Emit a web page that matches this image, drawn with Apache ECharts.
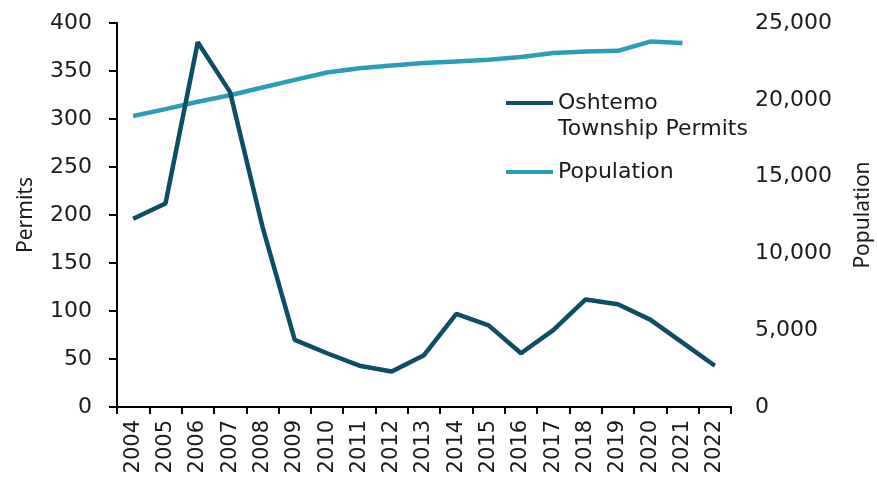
<!DOCTYPE html>
<html>
<head>
<meta charset="utf-8">
<script src="https://cdn.jsdelivr.net/npm/echarts@6/dist/echarts.min.js"></script>
<style>
  html, body { margin: 0; padding: 0; background: #ffffff; }
  #chart { width: 877px; height: 479px; }
</style>
</head>
<body>
<div id="chart"></div>
<script>
// Oshtemo Township residential permits and population, 2004–2022
const years = ['2004','2005','2006','2007','2008','2009','2010','2011','2012','2013',
               '2014','2015','2016','2017','2018','2019','2020','2021','2022'];
const permits = [196, 212, 380, 328, 188, 70, 56, 43, 37, 54,
                 97, 85, 56, 80, 112, 107, 91, 67, 43];
const population = [18950, 19390, 19870, 20300, 20800, 21300, 21780, 22060, 22230, 22390,
                    22500, 22600, 22780, 23040, 23150, 23190, 23790, 23700, null];
const permitTicks = { min: 0, max: 400, interval: 50 };
const populationTicks = { min: 0, max: 25000, interval: 5000 };

const DARK = '#0e4d63';
const LIGHT = '#2d9db5';
const TEXT = '#1a1a1a';
const FONT = 'DejaVu Sans';

const chart = echarts.init(document.getElementById('chart'), null, { renderer: 'canvas' });

chart.setOption({
  animation: false,
  backgroundColor: '#ffffff',
  grid: { left: 117, right: 146, top: 23, bottom: 72, containLabel: false, outerBoundsMode: 'none' },
  legend: {
    orient: 'vertical',
    left: 501,
    top: 59,
    itemWidth: 47,
    itemHeight: 4,
    itemGap: 17,
    icon: 'rect',
    textStyle: { fontFamily: FONT, fontSize: 22, color: TEXT, lineHeight: 26 },
    formatter: function (name) {
      return name === 'Oshtemo Township Permits' ? '\nOshtemo\nTownship Permits' : name;
    },
    data: ['Oshtemo Township Permits', 'Population']
  },
  xAxis: {
    type: 'category',
    data: years,
    boundaryGap: true,
    axisLine: { show: true, lineStyle: { color: '#000000', width: 2 } },
    axisTick: { show: true, length: 7, lineStyle: { color: '#000000', width: 2 } },
    axisLabel: {
      rotate: 90, margin: 13, color: TEXT, fontFamily: FONT, fontSize: 21, interval: 0
    },
    splitLine: { show: false }
  },
  yAxis: [
    {
      type: 'value',
      name: 'Permits',
      nameLocation: 'middle',
      nameGap: 80,
      nameRotate: 90,
      nameTextStyle: { fontFamily: 'Noto Sans', fontSize: 21, color: TEXT },
      min: permitTicks.min, max: permitTicks.max, interval: permitTicks.interval,
      axisLine: { show: true, lineStyle: { color: '#000000', width: 2 } },
      axisTick: { show: true, inside: false, length: 8, lineStyle: { color: '#000000', width: 2 } },
      axisLabel: { margin: 25, color: TEXT, fontFamily: FONT, fontSize: 22 },
      splitLine: { show: false }
    },
    {
      type: 'value',
      name: 'Population',
      nameLocation: 'middle',
      nameGap: 122,
      nameRotate: 90,
      nameTextStyle: { fontFamily: 'Noto Sans', fontSize: 21, color: TEXT },
      position: 'right',
      min: populationTicks.min, max: populationTicks.max, interval: populationTicks.interval,
      axisLine: { show: false },
      axisTick: { show: false },
      axisLabel: {
        margin: 24, color: TEXT, fontFamily: FONT, fontSize: 22,
        formatter: function (v) { return v.toLocaleString('en-US'); }
      },
      splitLine: { show: false }
    }
  ],
  series: [
    {
      name: 'Oshtemo Township Permits',
      type: 'line',
      yAxisIndex: 0,
      data: permits,
      showSymbol: false,
      symbol: 'none',
      lineStyle: { color: DARK, width: 4.5 },
      itemStyle: { color: DARK },
      z: 3
    },
    {
      name: 'Population',
      type: 'line',
      yAxisIndex: 1,
      data: population,
      showSymbol: false,
      symbol: 'none',
      connectNulls: false,
      lineStyle: { color: LIGHT, width: 4.5 },
      itemStyle: { color: LIGHT },
      z: 2
    }
  ]
});
</script>
</body>
</html>
